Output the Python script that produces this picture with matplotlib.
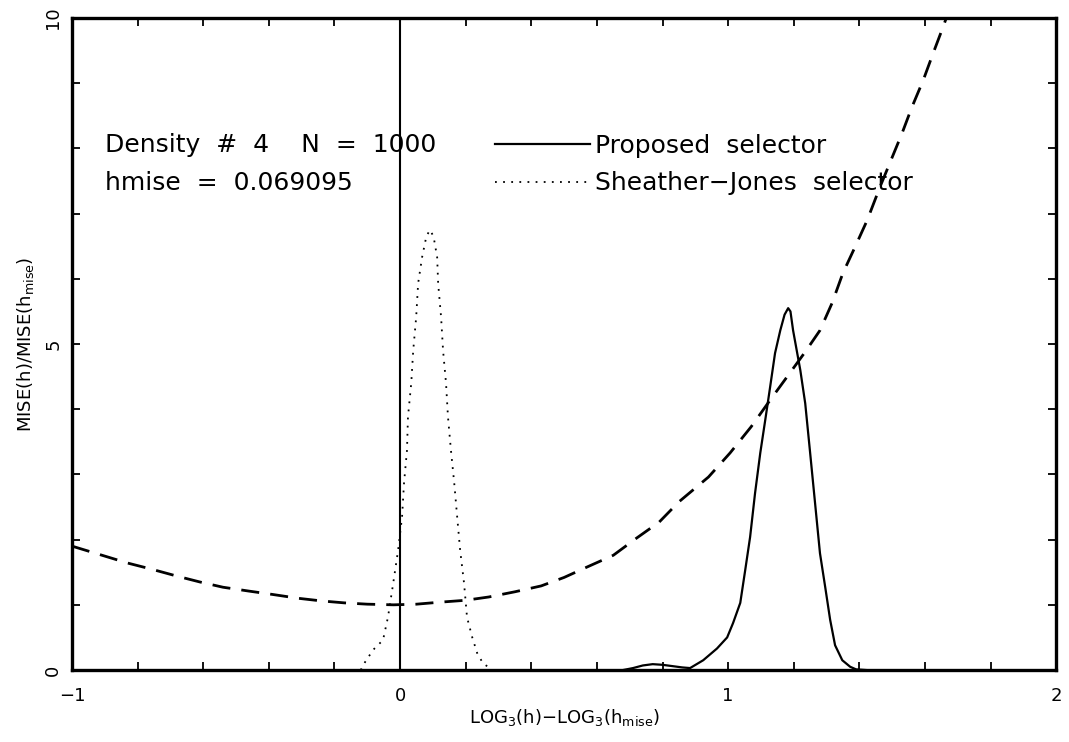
import matplotlib
matplotlib.use("Agg")
from matplotlib import pyplot as plt

plt.rcParams['font.family'] = ['DejaVu Sans']
plt.rcParams['mathtext.default'] = 'regular'

# MISE(h)/MISE(hmise) curve (dashed)
mise_x = [-1.0, -0.83, -0.76, -0.68, -0.61, -0.54, -0.46, -0.39, -0.31, -0.24, -0.17, -0.10,
          -0.02, 0.05, 0.12, 0.20, 0.27, 0.35, 0.43, 0.50, 0.57, 0.65, 0.72, 0.79, 0.85,
          0.94, 1.006, 1.07, 1.128, 1.183, 1.235, 1.28, 1.317, 1.35, 1.387, 1.424, 1.463,
          1.494, 1.53, 1.56, 1.595, 1.625, 1.655, 1.665]
mise_y = [1.90, 1.64, 1.55, 1.44, 1.35, 1.27, 1.21, 1.16, 1.10, 1.06, 1.03, 1.01,
          1.00, 1.01, 1.04, 1.07, 1.12, 1.20, 1.29, 1.42, 1.58, 1.76, 2.02, 2.27, 2.58,
          2.96, 3.33, 3.73, 4.14, 4.52, 4.88, 5.21, 5.63, 6.09, 6.49, 6.90, 7.41,
          7.79, 8.23, 8.63, 9.05, 9.46, 9.86, 10.0]

# Sheather-Jones selector density (dotted)
sj_x = [-0.12, -0.107, -0.082, -0.052, -0.037, -0.021, -0.006, 0.006, 0.012, 0.021, 0.024,
        0.034, 0.040, 0.049, 0.055, 0.067, 0.08, 0.091, 0.102, 0.113, 0.116, 0.125, 0.131,
        0.140, 0.146, 0.155, 0.165, 0.174, 0.183, 0.195, 0.204, 0.220, 0.235, 0.253, 0.268, 0.28]
sj_y = [0.0, 0.12, 0.31, 0.46, 0.81, 1.33, 1.84, 2.35, 2.87, 3.37, 3.88,
        4.40, 4.90, 5.41, 5.93, 6.33, 6.65, 6.75, 6.65, 6.33, 5.93, 5.41, 4.90,
        4.40, 3.88, 3.37, 2.87, 2.35, 1.84, 1.33, 0.81, 0.50, 0.26, 0.10, 0.05, 0.0]

# Proposed selector density (solid)
prop_x = [0.68, 0.71, 0.74, 0.77, 0.80, 0.83, 0.86, 0.884, 0.924, 0.966, 0.997, 1.015, 1.037,
          1.052, 1.067, 1.082, 1.098, 1.113, 1.128, 1.143, 1.159, 1.172, 1.183, 1.19, 1.198,
          1.220, 1.235, 1.250, 1.265, 1.280, 1.296, 1.311, 1.326, 1.348, 1.372, 1.39, 1.42]
prop_y = [0.0, 0.03, 0.07, 0.09, 0.08, 0.06, 0.04, 0.03, 0.15, 0.33, 0.50, 0.72, 1.03,
          1.53, 2.04, 2.71, 3.33, 3.83, 4.34, 4.86, 5.21, 5.45, 5.55, 5.50, 5.21,
          4.60, 4.09, 3.33, 2.56, 1.79, 1.27, 0.77, 0.38, 0.15, 0.05, 0.01, 0.0]

x_major = [-1, 0, 1, 2]
x_minor = [-0.8, -0.6, -0.4, -0.2, 0.2, 0.4, 0.6, 0.8, 1.2, 1.4, 1.6, 1.8]
y_major = [0, 5, 10]
y_minor = [1, 2, 3, 4, 6, 7, 8, 9]

fig = plt.figure(figsize=(10.69, 7.42), dpi=100)
ax = fig.add_axes([0.0674, 0.097, 0.9206, 0.8787])

ax.plot(mise_x, mise_y, color='black', lw=2.0, linestyle=(0, (6.5, 4)))
ax.plot(sj_x, sj_y, color='black', lw=1.3, linestyle=(0, (1, 3.5)),
        label='Sheather\u2212Jones  selector')
ax.plot(prop_x, prop_y, color='black', lw=1.6, label='Proposed  selector')
ax.axvline(0, color='black', lw=1.5)

ax.set_xlim(-1, 2)
ax.set_ylim(0, 10)
ax.set_xticks(x_major)
ax.set_xticks(x_minor, minor=True)
ax.set_yticks(y_major)
ax.set_yticks(y_minor, minor=True)
ax.set_xticklabels([str(v).replace('-', '\u2212') for v in x_major])
ax.set_yticklabels([str(v) for v in y_major], rotation=90, va='center')
ax.tick_params(which='both', direction='in', top=True, right=True, length=6, width=1.3)
ax.tick_params(axis='x', which='major', pad=12, labelsize=13)
ax.tick_params(axis='y', which='major', pad=7, labelsize=13)
for s in ax.spines.values():
    s.set_linewidth(2.4)

ax.set_xlabel(r'LOG$_3$(h)$-$LOG$_3$(h$_{mise}$)', fontsize=13, labelpad=2)
ax.set_ylabel(r'MISE(h)/MISE(h$_{mise}$)', fontsize=13, labelpad=6)

ax.text(-0.9, 8.05, 'Density  #  4    N  =  1000', fontsize=18, va='center', ha='left')
ax.text(-0.9, 7.47, 'hmise  =  0.069095', fontsize=18, va='center', ha='left')

h, l = ax.get_legend_handles_labels()
ax.legend([h[1], h[0]], [l[1], l[0]], loc='upper left', bbox_to_anchor=(0.42, 0.838),
          frameon=False, fontsize=18, handlelength=3.8, handletextpad=0.2,
          labelspacing=0.55, borderaxespad=0)

fig.savefig('out.png', dpi=100)
